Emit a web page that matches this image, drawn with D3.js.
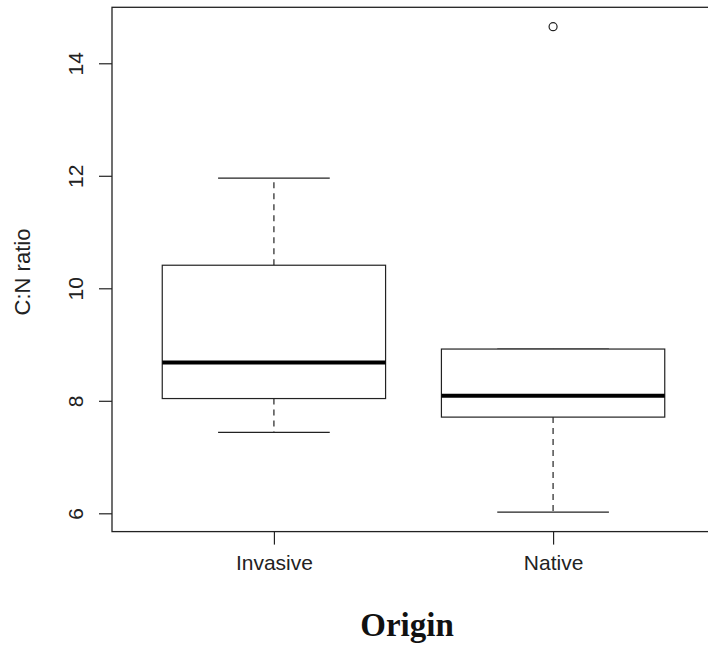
<!DOCTYPE html>
<html>
<head>
<meta charset="utf-8">
<script src="https://cdn.jsdelivr.net/npm/d3@7"></script>
<style>
  body { margin: 0; background: #fff; }
  svg { display: block; }
  .lbl { font-family: "Liberation Sans", Arial, sans-serif; fill: #222; }
</style>
</head>
<body>
<div id="graphic"></div>
<script>
// box stats
const groups = ["Invasive", "Native"];
const whiskerLow = [7.44, 6.02];
const q1 = [8.04, 7.71];
const medians = [8.68, 8.09];
const q3 = [10.41, 8.92];
const whiskerHigh = [11.96, 8.92];
const outliers = [[], [14.65]];
const yTicks = [6, 8, 10, 12, 14];

const W = 708, H = 652;
const PLOT = {left: 112, right: 715, top: 7.3, bottom: 531.6};
const BOX_HALF = 0.4, CAP_HALF = 0.2;
const INK = "#222";

var svg = d3.select("#graphic").append("svg")
    .attr("width", W).attr("height", H);

// R style: pad data range by 4%
var lo = d3.min(whiskerLow), hi = d3.max(outliers.flat().concat(whiskerHigh));
var pad = (hi - lo) * 0.04;

var x = d3.scaleLinear()
    .domain([0.5 - 2 * 0.04, 2.5 + 2 * 0.04])
    .range([PLOT.left, PLOT.right]);
var y = d3.scaleLinear()
    .domain([lo - pad, hi + pad])
    .range([PLOT.bottom, PLOT.top]);

var data = groups.map((g, i) => ({
    name: g, pos: i + 1,
    wl: whiskerLow[i], q1: q1[i], med: medians[i], q3: q3[i], wh: whiskerHigh[i],
    out: outliers[i]
}));

var g = svg.selectAll(".box").data(data).enter().append("g").attr("class", "box");

// dashed whiskers
g.append("line")
    .attr("x1", d => x(d.pos)).attr("x2", d => x(d.pos))
    .attr("y1", d => y(d.q3)).attr("y2", d => y(d.wh))
    .attr("stroke", INK).attr("stroke-width", 1.2).attr("stroke-dasharray", "6,5");
g.append("line")
    .attr("x1", d => x(d.pos)).attr("x2", d => x(d.pos))
    .attr("y1", d => y(d.q1)).attr("y2", d => y(d.wl))
    .attr("stroke", INK).attr("stroke-width", 1.2).attr("stroke-dasharray", "6,5");

// caps
["wl", "wh"].forEach(k => {
    g.append("line")
        .attr("x1", d => x(d.pos - CAP_HALF)).attr("x2", d => x(d.pos + CAP_HALF))
        .attr("y1", d => y(d[k])).attr("y2", d => y(d[k]))
        .attr("stroke", INK).attr("stroke-width", 1.2);
});

// box
g.append("rect")
    .attr("x", d => x(d.pos - BOX_HALF))
    .attr("width", d => x(d.pos + BOX_HALF) - x(d.pos - BOX_HALF))
    .attr("y", d => y(d.q3))
    .attr("height", d => y(d.q1) - y(d.q3))
    .attr("fill", "#fff").attr("stroke", INK).attr("stroke-width", 1.2);

// median
g.append("line")
    .attr("x1", d => x(d.pos - BOX_HALF)).attr("x2", d => x(d.pos + BOX_HALF))
    .attr("y1", d => y(d.med)).attr("y2", d => y(d.med))
    .attr("stroke", "#000").attr("stroke-width", 4);

// outliers
g.selectAll(".out").data(d => d.out.map(v => ({pos: d.pos, v: v}))).enter()
    .append("circle")
    .attr("cx", d => x(d.pos)).attr("cy", d => y(d.v)).attr("r", 4)
    .attr("fill", "none").attr("stroke", INK).attr("stroke-width", 1.2);

// frame
svg.append("rect")
    .attr("x", PLOT.left).attr("y", PLOT.top)
    .attr("width", PLOT.right - PLOT.left).attr("height", PLOT.bottom - PLOT.top)
    .attr("fill", "none").attr("stroke", INK).attr("stroke-width", 1.3);

// y axis
var yAxis = svg.append("g")
    .attr("transform", `translate(${PLOT.left},0)`)
    .call(d3.axisLeft(y).tickValues(yTicks).tickSize(13).tickFormat(d3.format("d")))
    .call(a => a.select(".domain").remove());
yAxis.selectAll(".tick line").attr("stroke", INK).attr("stroke-width", 1.2);
yAxis.selectAll(".tick text").remove();
yAxis.selectAll(".tick").append("text")
    .attr("class", "lbl")
    .attr("transform", "translate(-29,0) rotate(-90)")
    .attr("text-anchor", "middle")
    .attr("font-size", 21)
    .text(d => d);

// x axis
var xAxis = svg.append("g")
    .attr("transform", `translate(0,${PLOT.bottom})`)
    .call(d3.axisBottom(x).tickValues(data.map(d => d.pos)).tickSize(13)
        .tickFormat((d, i) => groups[i]))
    .call(a => a.select(".domain").remove());
xAxis.selectAll(".tick line").attr("stroke", INK).attr("stroke-width", 1.2);
xAxis.selectAll(".tick text")
    .attr("class", "lbl").attr("fill", INK)
    .attr("font-size", 21).attr("y", 38).attr("dy", 0);

// axis titles
svg.append("text")
    .attr("class", "lbl")
    .attr("transform", `translate(30,272) rotate(-90)`)
    .attr("text-anchor", "middle").attr("font-size", 22)
    .text("C:N ratio");

svg.append("text")
    .attr("x", 407).attr("y", 636)
    .attr("text-anchor", "middle")
    .attr("font-family", "'Liberation Serif', 'Times New Roman', serif")
    .attr("font-weight", "bold").attr("font-size", 33)
    .attr("fill", "#111")
    .text("Origin");
</script>
</body>
</html>
